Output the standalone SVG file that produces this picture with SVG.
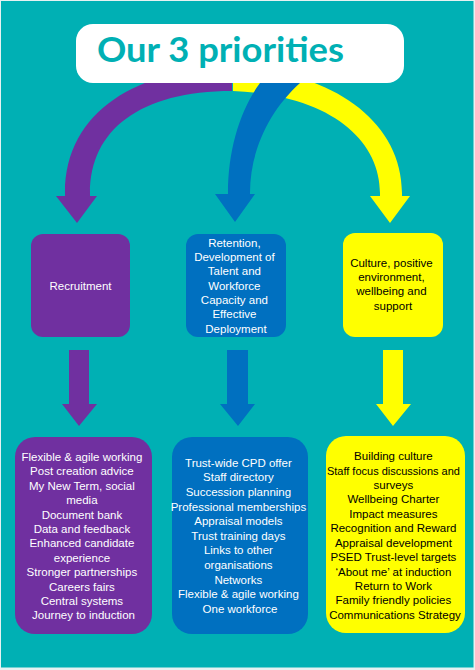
<svg xmlns="http://www.w3.org/2000/svg" width="475" height="670" viewBox="0 0 475 670">
<style>
.t{font-family:"Liberation Sans",Arial,sans-serif;font-size:11.5px;text-anchor:middle}
.w{fill:#ffffff}
.k{fill:#000000}
.pu{fill:#7030A0}
.bl{fill:#0070C0}
.ye{fill:#FFFF00}
</style>
<rect x="0" y="0" width="475" height="670" fill="#e6f2f2"/>
<rect x="1" y="1" width="472.5" height="666.5" fill="#00B0B4"/>
<g id="connectors">
  <path class="pu" d="M232,68 L232,91 C140,91 90,130 90,193 L90,196 L97,196 L77,223 L56,196 L65,196 L65,193 C65,110 140,68 232,68 Z"/>
  <path class="ye" d="M233,68 L240,68 C330,72 402,120 402,193 L402,196 L410,196 L390,223 L370,196 L380,196 L380,193 C380,140 330,95 233,91 Z"/>
  <path class="bl" d="M268,70 L312,70 L300,83 C270,110 250,150 250,193 L250,194 L255,194 L235,222 L215,194 L228,194 L228,193 C228,150 240,110 260,83 Z"/>
  <path class="pu" d="M69,350 L89,350 L89,404 L97,404 L79,426 L62,404 L69,404 Z"/>
  <path class="bl" d="M227,350 L248,350 L248,404 L255,404 L238,426 L220,404 L227,404 Z"/>
  <path class="ye" d="M383,350 L403,350 L403,404 L411,404 L393,426 L376,404 L383,404 Z"/>
</g>
<g id="title">
  <rect x="76" y="24" width="328" height="59" rx="17" fill="#ffffff"/>
  <text x="97" y="62" font-family="Lato,'Liberation Sans',sans-serif" font-weight="bold" font-size="35" fill="#00B0B4" textLength="247" lengthAdjust="spacingAndGlyphs">Our 3 priorities</text>
</g>
<g id="recruitment">
  <rect x="31" y="234" width="99" height="103" rx="12" class="pu"/>
  <text class="t w" x="80.5" y="290" font-size="11">Recruitment</text>
</g>
<g id="retention">
  <rect x="186" y="234" width="100" height="103" rx="12" class="bl"/>
  <text class="t w" x="236">
    <tspan x="236" y="246.7">Retention,</tspan>
    <tspan x="236" y="261">Development of</tspan>
    <tspan x="236" y="275.3">Talent and</tspan>
    <tspan x="236" y="289.6">Workforce</tspan>
    <tspan x="236" y="303.9">Capacity and</tspan>
    <tspan x="236" y="318.2">Effective</tspan>
    <tspan x="236" y="332.5">Deployment</tspan>
  </text>
</g>
<g id="culture">
  <rect x="343" y="233" width="100" height="104" rx="12" class="ye"/>
  <text class="t k" x="393">
    <tspan x="393" y="266.7">Culture, positive</tspan>
    <tspan x="393" y="281">environment,</tspan>
    <tspan x="393" y="295.3">wellbeing and</tspan>
    <tspan x="393" y="309.6">support</tspan>
  </text>
</g>
<g id="recruitment-list">
  <rect x="15" y="437" width="137" height="197" rx="20" class="pu"/>
  <text class="t w" x="83.5">
    <tspan x="83.5" y="461">Flexible &amp; agile working</tspan>
    <tspan x="83.5" y="475.4">Post creation advice</tspan>
    <tspan x="83.5" y="489.8">My New Term, social</tspan>
    <tspan x="83.5" y="504.2">media</tspan>
    <tspan x="83.5" y="518.6">Document bank</tspan>
    <tspan x="83.5" y="533">Data and feedback</tspan>
    <tspan x="83.5" y="547.4">Enhanced candidate</tspan>
    <tspan x="83.5" y="561.8">experience</tspan>
    <tspan x="83.5" y="576.2">Stronger partnerships</tspan>
    <tspan x="83.5" y="590.6">Careers fairs</tspan>
    <tspan x="83.5" y="605">Central systems</tspan>
    <tspan x="83.5" y="619.4">Journey to induction</tspan>
  </text>
</g>
<g id="retention-list">
  <rect x="172" y="437" width="136" height="197" rx="20" class="bl"/>
  <text class="t w" x="240">
    <tspan x="240" y="466.7">Trust-wide CPD offer</tspan>
    <tspan x="240" y="481.3">Staff directory</tspan>
    <tspan x="240" y="495.9">Succession planning</tspan>
    <tspan x="240" y="510.5">Professional memberships</tspan>
    <tspan x="240" y="525.1">Appraisal models</tspan>
    <tspan x="240" y="539.7">Trust training days</tspan>
    <tspan x="240" y="554.3">Links to other</tspan>
    <tspan x="240" y="568.9">organisations</tspan>
    <tspan x="240" y="583.5">Networks</tspan>
    <tspan x="240" y="598.1">Flexible &amp; agile working</tspan>
    <tspan x="240" y="612.7">One workforce</tspan>
  </text>
</g>
<g id="culture-list">
  <rect x="326" y="436" width="139" height="197" rx="20" class="ye"/>
  <text class="t k" x="395">
    <tspan x="395" y="460">Building culture</tspan>
    <tspan x="395" y="474.5" textLength="133" lengthAdjust="spacingAndGlyphs">Staff focus discussions and</tspan>
    <tspan x="395" y="489">surveys</tspan>
    <tspan x="395" y="503.4">Wellbeing Charter</tspan>
    <tspan x="395" y="517.8">Impact measures</tspan>
    <tspan x="395" y="532.2">Recognition and Reward</tspan>
    <tspan x="395" y="546.6">Appraisal development</tspan>
    <tspan x="395" y="561">PSED Trust-level targets</tspan>
    <tspan x="395" y="575.5">‘About me’ at induction</tspan>
    <tspan x="395" y="590">Return to Work</tspan>
    <tspan x="395" y="604.4">Family friendly policies</tspan>
    <tspan x="395" y="619">Communications Strategy</tspan>
  </text>
</g>
</svg>
